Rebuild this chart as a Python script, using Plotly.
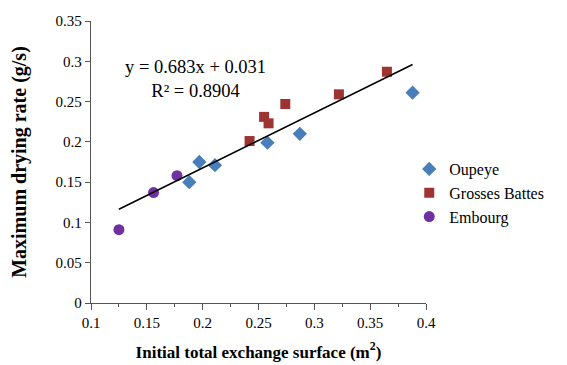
import plotly.graph_objects as go

oupeye_x = [0.188, 0.197, 0.211, 0.258, 0.287, 0.388]
oupeye_y = [0.150, 0.175, 0.171, 0.199, 0.210, 0.261]
grosses_x = [0.242, 0.255, 0.259, 0.274, 0.322, 0.365]
grosses_y = [0.201, 0.231, 0.223, 0.247, 0.259, 0.287]
embourg_x = [0.125, 0.156, 0.177]
embourg_y = [0.091, 0.137, 0.158]
slope, intercept = 0.683, 0.031

all_x = oupeye_x + grosses_x + embourg_x
fit_x = [min(all_x), max(all_x)]
fit_y = [slope * v + intercept for v in fit_x]

font = "Liberation Serif"
fig = go.Figure()
fig.add_trace(go.Scatter(x=oupeye_x, y=oupeye_y, mode="markers", name="Oupeye",
                         marker=dict(symbol="diamond", size=11, color="#4a7ebb")))
fig.add_trace(go.Scatter(x=grosses_x, y=grosses_y, mode="markers", name="Grosses Battes",
                         marker=dict(symbol="square", size=10, color="#9e3431")))
fig.add_trace(go.Scatter(x=embourg_x, y=embourg_y, mode="markers", name="Embourg",
                         marker=dict(symbol="circle", size=11, color="#7030a0")))
fig.add_trace(go.Scatter(x=fit_x, y=fit_y, mode="lines", showlegend=False,
                         line=dict(color="black", width=1.5)))

fig.add_annotation(x=0.194, y=0.278, xref="x", yref="y", showarrow=False,
                   text="y = 0.683x + 0.031<br>R² = 0.8904", align="center",
                   font=dict(family=font, size=18.5, color="black"))

fig.update_layout(
    width=567, height=365, plot_bgcolor="white", paper_bgcolor="white",
    margin=dict(l=83, r=149, t=13, b=70, autoexpand=False),
    font=dict(family=font, size=15, color="black"),
    legend=dict(x=0.95, y=0.39, xanchor="left", yanchor="middle",
                font=dict(family=font, size=16), itemwidth=30, tracegroupgap=0),
    xaxis=dict(range=[0.1, 0.4], dtick=0.05, showgrid=False, zeroline=False,
               automargin=False,
               showline=True, linecolor="#555", linewidth=1.3,
               ticks="outside", ticklen=6, tickcolor="#555",
               minor=dict(dtick=0.025, ticks="outside", ticklen=3, tickcolor="#555"),
               title=dict(text="<b>Initial total exchange surface (m<sup>2</sup>)</b>",
                          font=dict(family=font, size=17), standoff=15),
               tickfont=dict(family=font, size=15)),
    yaxis=dict(range=[0, 0.35], dtick=0.05, showgrid=False, zeroline=False,
               automargin=False,
               showline=True, linecolor="#555", linewidth=1.3,
               ticks="outside", ticklen=5, tickcolor="#555",
               title=dict(text="<b>Maximum drying rate (g/s)</b>",
                          font=dict(family=font, size=20), standoff=24),
               tickfont=dict(family=font, size=15)),
)
fig.write_html("out.html")
